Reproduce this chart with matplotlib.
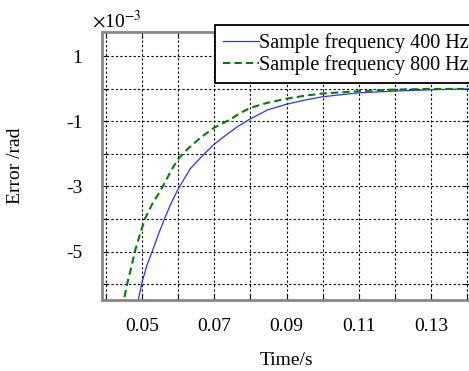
import numpy as np
import matplotlib
matplotlib.use('Agg')
import matplotlib.pyplot as plt

plt.rcParams['font.family'] = ['Liberation Serif', 'DejaVu Serif']
plt.rcParams['mathtext.fontset'] = 'stix'
plt.rcParams['axes.unicode_minus'] = False

# values (error in units of 1e-3 rad)
t_400 = [0.0488, 0.0491, 0.0500, 0.0514, 0.0529, 0.0546, 0.0563, 0.0579, 0.0600,
         0.0634, 0.0671, 0.0700, 0.0735, 0.0767, 0.0800, 0.0828, 0.0846, 0.0900,
         0.0956, 0.1000, 0.1100, 0.1200, 0.1300, 0.1410]
err_400 = [-6.75, -6.45, -5.96, -5.42, -4.98, -4.46, -3.98, -3.56, -3.08,
           -2.45, -2.01, -1.70, -1.40, -1.14, -0.92, -0.76, -0.65, -0.47,
           -0.33, -0.24, -0.12, -0.065, -0.025, 0.0]
t_800 = [0.0446, 0.0451, 0.0460, 0.0472, 0.0481, 0.0495, 0.0509, 0.0528, 0.0542,
         0.0560, 0.0583, 0.0600, 0.0625, 0.0662, 0.0700, 0.0744, 0.0772, 0.0800,
         0.0846, 0.0900, 0.0956, 0.1000, 0.1100, 0.1200, 0.1300, 0.1410]
err_800 = [-6.75, -6.45, -5.96, -5.42, -4.98, -4.46, -3.98, -3.55, -3.30,
           -2.95, -2.47, -2.16, -1.86, -1.50, -1.19, -0.94, -0.74, -0.58,
           -0.43, -0.30, -0.20, -0.14, -0.07, -0.02, 0.0, 0.0]

xticks = [0.04, 0.05, 0.06, 0.07, 0.08, 0.09, 0.10, 0.11, 0.12, 0.13, 0.14]
xlabels = ['', '0.05', '', '0.07', '', '0.09', '', '0.11', '', '0.13', '']
yticks = [-6, -5, -4, -3, -2, -1, 0, 1]
ylabels = ['', '-5', '', '-3', '', '-1', '', '1']

fig = plt.figure(figsize=(4.69, 3.71), dpi=100)
ax = fig.add_axes([0.2175, 0.1914, 0.785, 0.7223])

ax.plot(t_400, err_400, color='#3030ff', lw=0.9, label='Sample frequency 400 Hz')
ax.plot(t_800, err_800, color='#008000', lw=1.5, ls=(0, (3.5, 2)),
        label='Sample frequency 800 Hz')

ax.set_xlim(0.03897, 0.1408)
ax.set_ylim(-6.49, 1.75)
ax.set_xticks(xticks)
ax.set_xticklabels(xlabels)
ax.set_yticks(yticks)
ax.set_yticklabels(ylabels)
ax.tick_params(direction='in', length=4, width=0.8, labelsize=14,
               top=True, right=True, color='black')
ax.tick_params(axis='y', pad=14)
ax.tick_params(axis='x', pad=13)
ax.grid(True, color='black', ls=(0, (2, 2)), lw=0.8)

for s in ax.spines.values():
    s.set_color('#888888')
    s.set_linewidth(2)

ax.set_xlabel('Time/s', fontsize=14, labelpad=12)
ax.set_ylabel('Error /rad', fontsize=14, labelpad=30)

fig.text(0.196, 0.925, r'$\times$10$^{-3}$', fontsize=14)

leg = ax.legend(loc='upper left', bbox_to_anchor=(215/469, 1 - 25/371),
                bbox_transform=fig.transFigure, prop={'size': 14.5}, frameon=True,
                fancybox=False, framealpha=1, edgecolor='black',
                handlelength=1.8, handletextpad=0.0, labelspacing=0.12,
                borderpad=0.4, borderaxespad=0)
leg.get_frame().set_linewidth(1.3)

fig.savefig('out.png', dpi=100)
